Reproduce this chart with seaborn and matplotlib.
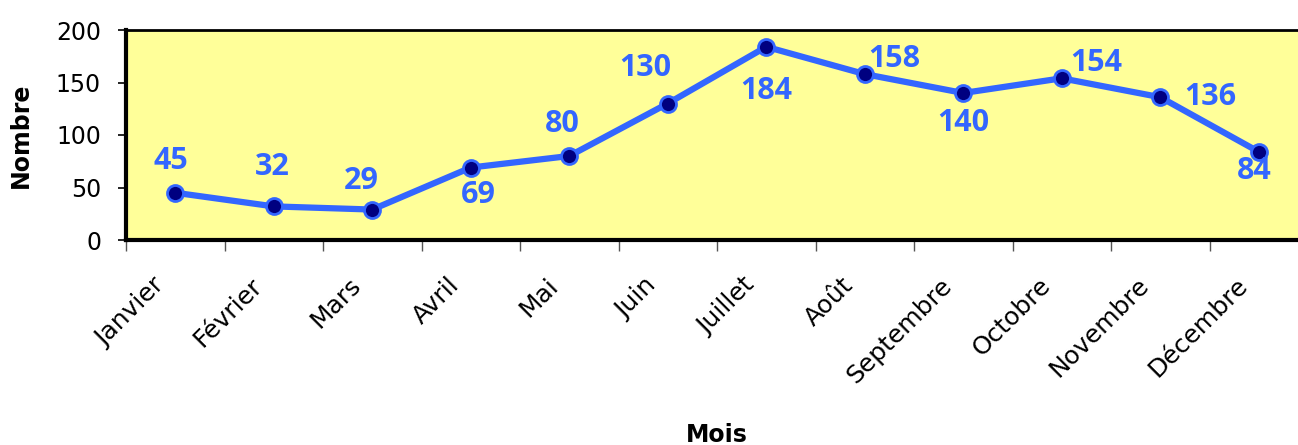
import matplotlib
matplotlib.use("Agg")
import matplotlib.pyplot as plt
import matplotlib.transforms as mtransforms
import seaborn as sns
import pandas as pd
import numpy as np

months = ["Janvier", "Février", "Mars", "Avril", "Mai", "Juin", "Juillet",
          "Août", "Septembre", "Octobre", "Novembre", "Décembre"]
counts = [45, 32, 29, 69, 80, 130, 184, 158, 140, 154, 136, 84]
y_ticks = [0, 50, 100, 150, 200]

# label placement offsets (pixels) relative to each point
label_dx = [-4, -1, -11, 8, -7, -22, 0, 30, 0, 34, 50, -5]
label_dy = [32, 39, 29, -27, 32, 35, -44, 15, -30, 15, 0, -19]

sns.set_theme(style="white")
plt.rcParams["font.family"] = ["DejaVu Sans"]

df = pd.DataFrame({"Mois": months, "Nombre": counts})

W, H, DPI = 1298, 445, 100
fig = plt.figure(figsize=(W / DPI, H / DPI), dpi=DPI)
left, right, top, bottom = 126, 1308, 30, 240
ax = fig.add_axes([left / W, 1 - bottom / H, (right - left) / W, (bottom - top) / H])
ax.set_facecolor("#FFFF99")

line_color = "#3366FF"
sns.lineplot(data=df, x="Mois", y="Nombre", sort=False, ax=ax,
             color=line_color, linewidth=4.5, marker="o", markersize=11.5,
             markerfacecolor="#000080", markeredgecolor=line_color,
             markeredgewidth=2, zorder=3)

for i, v in enumerate(counts):
    ax.annotate(str(v), (i, v), xytext=(label_dx[i], label_dy[i]),
                textcoords="offset pixels", ha="center", va="center",
                color=line_color, fontsize=22, fontweight="bold",
                family=["Open Sans", "DejaVu Sans"], zorder=4)

ax.set_xlim(-0.5, len(months) - 0.5)
ax.set_ylim(0, 200)
ax.set_yticks(y_ticks)
ax.set_yticklabels([str(t) for t in y_ticks], fontsize=17, color="black")
ax.tick_params(axis="y", which="major", left=True, length=6, width=1.2,
               color="black", pad=12)

ax.set_xticks(range(len(months)))
ax.set_xticklabels(months, rotation=45, ha="right", rotation_mode="anchor",
                   fontsize=18, color="black")
ax.set_xticks(np.arange(-0.5, len(months), 1.0), minor=True)
ax.tick_params(axis="x", which="major", bottom=True, length=0, pad=30)
ax.tick_params(axis="x", which="minor", bottom=True, length=8, width=1,
               color="#555555")
shift = mtransforms.ScaledTranslation(-15 / DPI, 0, fig.dpi_scale_trans)
for lab in ax.get_xticklabels():
    lab.set_va("center")
    lab.set_transform(lab.get_transform() + shift)

for side in ["left", "bottom"]:
    ax.spines[side].set_color("black")
    ax.spines[side].set_linewidth(3)
ax.spines["top"].set_color("black")
ax.spines["top"].set_linewidth(2)
ax.spines["right"].set_visible(False)

ax.set_xlabel("Mois", fontsize=17, fontweight="bold", color="black")
ax.set_ylabel("Nombre", fontsize=17, fontweight="bold", color="black")
ax.xaxis.set_label_coords(0.5, -0.87)
ax.yaxis.set_label_coords(-0.079, 0.5)

fig.savefig("out.png", dpi=DPI, facecolor="white")
